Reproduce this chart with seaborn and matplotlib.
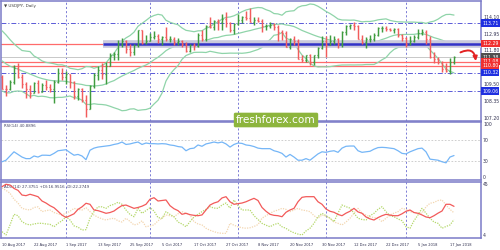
import numpy as np
import pandas as pd
import matplotlib
matplotlib.use("Agg")
import matplotlib.pyplot as plt
import seaborn as sns
from matplotlib.patches import FancyArrowPatch

# ---------------- data (USDJPY daily, 10 Aug 2017 - 18 Jan 2018) ----------------
open_ = [110.05,109.22,109.18,109.65,110.65,110.05,109.55,109.20,108.95,109.60,
         109.00,109.50,109.35,109.20,109.70,110.30,110.00,110.25,109.70,108.75,
         109.20,108.45,107.85,109.40,110.15,110.50,110.25,110.80,111.55,111.60,
         112.25,112.50,111.95,111.70,112.20,113.20,112.35,112.50,112.75,112.85,
         112.60,112.75,112.60,112.65,112.40,112.50,112.30,111.80,112.20,112.15,
         112.90,112.60,113.50,113.45,113.85,113.75,114.00,113.70,113.20,113.65,
         113.95,114.10,114.05,113.80,113.90,113.85,113.50,113.52,113.60,113.45,
         113.10,113.05,112.10,112.65,112.45,111.25,111.20,111.50,111.05,111.50,
         112.00,112.50,112.20,112.50,112.60,112.25,113.10,113.50,113.55,113.50,
         112.60,112.40,112.60,112.65,112.90,113.35,113.38,113.30,113.20,113.30,
         112.90,112.70,112.30,112.50,112.75,113.05,113.10,112.60,111.40,111.25,
         111.05,110.55,110.45,111.05]
high = [110.15,109.45,109.85,110.85,110.95,110.25,109.65,109.45,109.70,109.80,
        109.60,109.85,109.55,109.80,110.65,110.65,110.45,110.25,109.75,109.30,
        109.25,108.80,109.50,110.30,110.80,111.00,111.05,111.65,111.70,112.55,
        112.70,112.55,112.30,112.30,113.25,113.25,112.90,113.05,113.15,112.95,
        112.85,113.45,112.80,112.75,112.70,112.55,112.40,112.25,112.35,113.00,
        113.20,113.55,114.10,113.90,114.00,114.30,114.45,113.80,113.70,114.30,
        114.20,114.50,114.75,114.10,114.15,114.00,113.65,113.80,113.70,113.55,
        113.20,113.15,112.70,112.80,112.60,111.50,111.55,111.60,111.55,112.10,
        112.85,112.85,112.90,112.80,112.70,113.15,113.60,113.65,113.75,113.60,
        112.90,112.75,112.90,113.00,113.45,113.50,113.50,113.40,113.40,113.35,
        112.95,112.75,112.80,112.90,113.30,113.30,113.20,112.80,111.75,111.40,
        111.10,110.95,111.30,111.45]
low = [109.20,108.73,109.10,109.55,109.95,109.25,108.60,108.60,108.90,108.90,
       109.00,109.15,109.00,108.25,109.60,109.85,109.55,109.25,108.50,108.45,
       108.30,107.30,107.85,109.30,109.85,109.90,109.55,110.80,111.20,111.20,
       112.10,111.65,111.45,111.50,112.10,112.30,112.30,112.45,112.60,112.35,
       112.20,112.45,112.40,112.20,112.20,112.05,111.70,111.75,111.85,112.05,
       112.45,112.50,113.40,113.20,113.25,113.25,113.45,113.10,112.95,113.55,
       113.70,113.90,113.75,113.60,113.75,113.10,113.20,113.40,113.25,112.50,
       112.55,112.05,111.95,112.20,111.25,111.05,111.05,110.85,110.85,111.30,
       111.95,111.40,112.20,112.25,112.00,112.10,112.90,113.30,113.20,112.60,
       112.30,112.00,112.40,112.50,112.80,113.10,113.15,113.15,113.00,112.75,
       112.50,112.05,112.20,112.40,112.60,112.90,112.30,111.30,111.00,110.90,
       110.35,110.35,110.20,110.90]
close = [109.22,109.18,109.65,110.65,110.05,109.55,109.20,108.95,109.60,109.00,
         109.50,109.35,109.20,109.70,110.30,110.00,110.25,109.70,108.75,109.20,
         108.45,107.85,109.40,110.15,110.50,110.25,110.80,111.55,111.60,112.25,
         112.50,111.95,111.70,112.20,113.20,112.35,112.50,112.75,112.85,112.60,
         112.75,112.60,112.65,112.40,112.50,112.30,111.80,112.20,112.15,112.90,
         112.60,113.50,113.45,113.85,113.75,114.00,113.70,113.20,113.65,113.95,
         114.10,114.05,113.80,113.90,113.85,113.50,113.52,113.60,113.45,113.10,
         113.05,112.10,112.65,112.45,111.25,111.20,111.50,111.05,111.50,112.00,
         112.50,112.20,112.50,112.60,112.25,113.10,113.50,113.55,113.50,112.60,
         112.40,112.60,112.65,112.90,113.35,113.38,113.30,113.20,113.30,112.90,
         112.70,112.30,112.50,112.75,113.05,113.10,112.60,111.40,111.25,111.05,
         110.55,110.45,111.05,111.38]
# closes of the 20 sessions before the first bar (needed by the Bollinger window)
prior_close = [113.30,113.25,112.95,112.55,112.15,112.00,111.15,111.10,111.90,111.30,
               111.20,110.70,110.30,110.30,110.70,110.00,110.70,110.70,110.30,110.05]

rsi = [29,32,40,48,43,38,35,35,40,38,
       41.5,41.5,41,45,50,51,52,46.5,41.5,43,
       40,33,51,55,57,58,59,60,62,63.5,
       66.6,62,63,65,66.6,62,64.7,63.5,63.5,63,
       63.5,63,61,60,58,57,50,54,55,61,
       58.5,63,64.7,66.6,65,66.6,63,57,62,64.7,
       64,61,60,58,55,54,54,54,50,48,
       45,38,43,38,32,32,35,32,38,44,
       48,47,49,50,47,55,58.5,59,59,50,
       47,48,49,53,56,56.5,56,55,54,50,
       45,44,48,51,54,55,48,34,33,32,
       29,27,38,40.89]
adx = [42.9,44.8,44.2,41.5,40,36.3,35.8,36.9,36,35,
       31.6,30,27.9,26.3,23.5,20.5,18.6,20,21.5,25,
       27,29.8,29,24.5,24,23,21.9,22.5,23.7,26,
       28,28.4,27.1,25.8,26.5,27.5,29,33,34.2,31.6,
       32,32.4,27.9,25.5,24,21.1,21.9,20.8,20.3,20,
       20.6,24.5,28.4,30,31,34,35,31,29,29.5,
       30,31,32.4,33.7,32,26.5,23.5,21.1,20.3,20,
       19.2,22.7,24.5,25.8,31,34.5,35,35,35,31,
       29,25.3,23.5,22.7,21,20,22,23.5,25.8,23,
       21.9,19,17.5,16.6,18.5,20,21.1,20.5,20,20,
       21.5,23.5,24.5,22.5,21.9,20.6,19,18.4,20,22,
       23.7,29,29,27.38]
plus_di = [7.4,4.8,12.7,21.1,20,15.3,13.5,12.7,13.5,14,
           14,13.5,13.2,11.3,14,16,19.2,16.6,12,11,
           8.7,9,18,23.2,27,27,25.8,28,29,30.6,
           29,24.5,21,19.2,25.8,21.9,24,26.3,23.7,18.5,
           18,23.2,21,19.2,15,13.5,11.3,15.3,19,21.1,
           23.2,25,27.1,26,25.8,28.4,30,26,32.4,28,
           24.5,24.5,24.5,20,17,14,12.5,11.3,13,14,
           11.3,10,8,6.5,5.5,4.8,8,10.1,14,19.2,
           21.9,20,18,15.3,22,28.4,27.1,26,22,18,
           17,16.6,20,21.9,25,27.1,23.2,20,19.2,17.5,
           16,11.3,10.1,16,20.6,25.8,22,18,15,14,
           10.1,11.5,12.7,16.95]
minus_di = [41.9,40,37.7,33,30,25.8,25,24.5,26.5,27,
            23.2,24,24.5,22.5,21.5,20.6,22,23.5,25.8,25,
            24.5,26.3,23.2,20.5,18.8,17.5,16.6,17.5,18,16,
            15,18,15.5,12.7,13.5,16,11.3,12,12.7,16,
            18,20.6,20,19.2,21.5,23.2,22,20.6,15.3,13.5,
            12.7,10.1,8.5,7.4,6.5,6.1,6.1,14,12.5,11.3,
            10.5,10.1,10.5,11.5,13,18,20,21.9,23.5,24.5,
            25.8,25,23.2,24.5,25.8,24.5,24,23.2,20,18,
            20.6,19.5,18,15,14,12.7,15,18,22,25.8,
            22,20.5,19.2,18.5,18,15.3,18,20.6,22,23.2,
            25.8,25,23.2,22.5,21.9,22,27,29.8,30.5,32,
            32.4,28.4,25,22.27]

tick_labels = ["10 Aug 2017","22 Aug 2017","1 Sep 2017","13 Sep 2017","25 Sep 2017",
               "5 Oct 2017","17 Oct 2017","27 Oct 2017","8 Nov 2017","20 Nov 2017",
               "30 Nov 2017","12 Dec 2017","22 Dec 2017","5 Jan 2018","17 Jan 2018"]
tick_index = [0,8,16,24,32,40,48,56,64,72,80,88,96,104,112]
month_index = [16,37,59,81,101]

red_levels = [112.29, 111.08, 110.80]
dashdot_levels = [113.71, 110.32, 109.06]
trend_level = 112.27
bid_price = 111.38
grid_prices = ["114.10","112.95","111.80","109.50","108.35","107.20"]
box_labels = [("113.71","#1f2fe0"),("112.29","#f03030"),("111.38","#505050"),
              ("111.08","#f03030"),("110.80","#f03030"),("110.32","#1f2fe0"),
              ("109.06","#1f2fe0")]

# ---------------- style ----------------
sns.set_style("white")
plt.rcParams['font.family'] = ['DejaVu Sans']

FRAME = "#7a7ac8"
BULL = "#3f9c3f"
BEAR = "#f25c5c"
BAND = "#8fd4a9"
GRIDV = "#6868d0"

W, H = 500, 250
fig = plt.figure(figsize=(5, 2.5), dpi=100)
fig.patch.set_facecolor("white")

def px_axes(x0, y0, x1, y1):
    return fig.add_axes([x0 / W, 1 - y1 / H, (x1 - x0) / W, (y1 - y0) / H])

ax = px_axes(1, 1, 481, 121)
ax_r = px_axes(1, 122, 481, 180)
ax_a = px_axes(1, 182, 481, 238)

n = len(close)
idx = np.arange(n)
o = np.array(open_); h = np.array(high); l = np.array(low); c = np.array(close)
XL = (-0.25, 119.75)

for a in (ax, ax_r, ax_a):
    a.set_facecolor("white")
    a.set_xlim(*XL)
    for s in a.spines.values():
        s.set_color(FRAME)
        s.set_linewidth(1.1)
    a.set_yticks([])
    a.tick_params(axis="x", length=0, labelbottom=False)
    for m in month_index:
        a.axvline(m, color=GRIDV, lw=0.6, ls=(0, (2.5, 2.5)), zorder=1)

# ---------------- main panel ----------------
ax.set_ylim(107.016, 115.214)

full = pd.Series(prior_close + close)
mid = full.rolling(20).mean().iloc[-n:].to_numpy()
sd = full.rolling(20).std(ddof=0).iloc[-n:].to_numpy()
bb = pd.DataFrame({"i": np.tile(idx, 3),
                   "v": np.concatenate([mid + 2 * sd, mid, mid - 2 * sd]),
                   "band": np.repeat(["up", "mid", "lo"], n)})
sns.lineplot(data=bb, x="i", y="v", units="band", estimator=None, ax=ax,
             color=BAND, lw=0.9, zorder=3)

for lv in red_levels:
    ax.axhline(lv, color="#ff6b6b", lw=0.9, zorder=2)
for lv in dashdot_levels:
    ax.axhline(lv, color="#5a5ad8", lw=0.7, ls=(0, (5, 2, 1.2, 2)), zorder=2)
ax.axhline(bid_price, color="#c8c8c8", lw=0.7, zorder=2)
ax.hlines(trend_level, 25.25, XL[1], color="#c9c9dc", lw=5.5, zorder=4)
ax.hlines(trend_level, 25.25, XL[1], color="#3232c8", lw=1.8, zorder=5)

up = c >= o
for col, mk in ((BULL, up), (BEAR, ~up)):
    ax.vlines(idx[mk], l[mk], h[mk], color=col, lw=1.05, zorder=6)
    ax.hlines(o[mk], idx[mk] - 0.35, idx[mk], color=col, lw=0.9, zorder=6)
    ax.hlines(c[mk], idx[mk], idx[mk] + 0.35, color=col, lw=0.9, zorder=6)

arrow = FancyArrowPatch((114.0, 111.62), (118.5, 110.92),
                        connectionstyle="arc3,rad=-0.8", arrowstyle="-|>",
                        mutation_scale=6, color="#e32222", lw=1.4, zorder=8)
ax.add_patch(arrow)

ax.text(0.006, 0.955, "\u25BC USDJPY, Daily", transform=ax.transAxes,
        fontsize=3.0, color="#404040", va="center", ha="left")

# right side price scale
def price_to_fig(p):
    _, yd = ax.transData.transform((0, p))
    return fig.transFigure.inverted().transform((0, yd))[1]

for t in grid_prices:
    fig.text(483 / W, price_to_fig(float(t)), t, fontsize=3.3, color="#303050",
             va="center", ha="left")
for t, colr in box_labels:
    fig.text(482 / W, price_to_fig(float(t)), t, fontsize=3.3, color="white",
             va="center", ha="left",
             bbox=dict(boxstyle="square,pad=0.25", fc=colr, ec="none"))

# ---------------- RSI panel ----------------
ax_r.set_ylim(-5.71, 104.76)
for lv in (70, 30):
    ax_r.axhline(lv, color="#c6c6c6", lw=0.6, ls=(0, (2, 2)), zorder=1)
sns.lineplot(x=idx, y=rsi, ax=ax_r, color="#75b6f7", lw=0.9, zorder=3)
ax_r.text(0.006, 0.935, "RSI(14) 40.8896", transform=ax_r.transAxes,
          fontsize=2.8, color="#404060", va="center", ha="left")
def rsi_to_fig(v):
    _, yd = ax_r.transData.transform((0, v))
    return fig.transFigure.inverted().transform((0, yd))[1]
for v in (100, 70, 30, 0):
    fig.text(483 / W, rsi_to_fig(v), str(v), fontsize=3.3, color="#303050",
             va="center", ha="left")

# ---------------- ADX panel ----------------
ax_a.set_ylim(2.42, 46.58)
sns.lineplot(x=idx, y=minus_di, ax=ax_a, color="#f3d6b0", lw=0.9,
             ls=(0, (1, 1)), zorder=2)
sns.lineplot(x=idx, y=plus_di, ax=ax_a, color="#b4d86a", lw=0.9,
             ls=(0, (1, 1)), zorder=3)
sns.lineplot(x=idx, y=adx, ax=ax_a, color="#f25a5a", lw=0.9, zorder=4)
ax_a.text(0.006, 0.91, "ADX(14) 27.3751 +DI:16.9516 -DI:22.2749",
          transform=ax_a.transAxes, fontsize=2.9, color="#404060",
          va="center", ha="left")
def adx_to_fig(v):
    _, yd = ax_a.transData.transform((0, v))
    return fig.transFigure.inverted().transform((0, yd))[1]
for v in (45, 4):
    fig.text(483 / W, adx_to_fig(v), str(v), fontsize=3.3, color="#303050",
             va="center", ha="left")

ax_a.set_xticks(tick_index)
ax_a.set_xticklabels(tick_labels, fontsize=2.6, color="#303050", ha="left")
ax_a.tick_params(axis="x", length=2, width=0.6, color=FRAME, pad=1.5,
                 labelbottom=True)

for a in (ax, ax_r, ax_a):
    a.set_xlabel(""); a.set_ylabel("")

# watermark
fig.text(276 / W, 1 - 120 / H, "freshforex.com", fontsize=7.6, color="white",
         ha="center", va="center", zorder=20,
         bbox=dict(boxstyle="round,pad=0.22,rounding_size=0.15", fc="#8db53d",
                   ec="none"))

fig.savefig("out.png", dpi=100, facecolor="white")
